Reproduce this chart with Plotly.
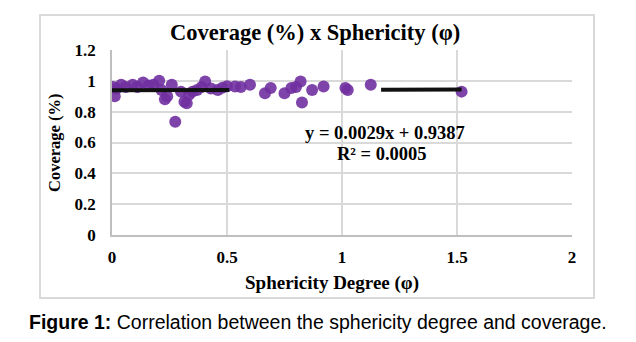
import plotly.graph_objects as go

# ---- data ----
sphericity = [0.005, 0.012, 0.02, 0.04, 0.06, 0.09, 0.11, 0.135, 0.16, 0.18,
              0.205, 0.215, 0.23, 0.24, 0.26, 0.275, 0.30, 0.315, 0.325, 0.335,
              0.35, 0.37, 0.39, 0.405, 0.43, 0.46, 0.48, 0.50, 0.535, 0.56,
              0.60, 0.665, 0.69, 0.75, 0.78, 0.80, 0.82, 0.826, 0.87, 0.92,
              1.015, 1.025, 1.125, 1.52]
coverage = [0.96, 0.90, 0.95, 0.975, 0.96, 0.975, 0.96, 0.99, 0.97, 0.975,
            1.0, 0.94, 0.88, 0.90, 0.975, 0.735, 0.93, 0.865, 0.855, 0.91,
            0.93, 0.94, 0.96, 0.995, 0.95, 0.94, 0.955, 0.965, 0.963, 0.96,
            0.975, 0.92, 0.953, 0.92, 0.953, 0.96, 0.995, 0.86, 0.94, 0.963,
            0.953, 0.94, 0.974, 0.93]
slope = 0.0029
intercept = 0.9387
r2 = 0.0005
trend_segments = [[0.0, 0.51], [1.17, 1.52]]
x_ticks = [0, 0.5, 1, 1.5, 2]
x_tick_labels = ["0", "0.5", "1", "1.5", "2"]
y_ticks = [0, 0.2, 0.4, 0.6, 0.8, 1.0, 1.2]
y_tick_labels = ["0", "0.2", "0.4", "0.6", "0.8", "1", "1.2"]

W, H = 636, 342
L, R, T, B = 112, 64, 50, 107
PW, PH = W - L - R, H - T - B


def px(x):
    return (x - L) / PW


def py(y):
    return (H - B - y) / PH


SERIF = "Liberation Serif, Times New Roman, serif"
TICKFONT = dict(family=SERIF, size=17, color="black", weight="bold")

fig = go.Figure()
fig.add_trace(go.Scatter(
    x=sphericity, y=coverage, mode="markers",
    marker=dict(color="#7030A0", size=12, opacity=0.9, line=dict(width=0)),
    showlegend=False, hoverinfo="skip"))
for seg in trend_segments:
    fig.add_trace(go.Scatter(
        x=seg, y=[slope * v + intercept for v in seg], mode="lines",
        line=dict(color="#111111", width=4), showlegend=False, hoverinfo="skip"))

fig.update_layout(
    width=W, height=H,
    margin=dict(l=L, r=R, t=T, b=B),
    paper_bgcolor="white", plot_bgcolor="white",
    xaxis=dict(range=[0, 2], tickvals=x_ticks, ticktext=x_tick_labels,
               showgrid=True, gridcolor="#d9d9d9", gridwidth=1.5,
               showline=True, linecolor="#bfbfbf", linewidth=1.5, mirror=False,
               zeroline=False, ticks="", ticklen=0, ticklabelstandoff=6,
               tickfont=TICKFONT),
    yaxis=dict(range=[0, 1.2], tickvals=y_ticks, ticktext=y_tick_labels,
               showgrid=True, gridcolor="#d9d9d9", gridwidth=1.5,
               showline=True, linecolor="#bfbfbf", linewidth=1.5,
               zeroline=False, ticks="", ticklen=0, ticklabelstandoff=11,
               tickfont=TICKFONT),
    shapes=[dict(type="rect", xref="paper", yref="paper",
                 x0=px(40), x1=px(594), y0=py(298), y1=py(15),
                 line=dict(color="#d9d9d9", width=2), layer="below")],
    annotations=[
        dict(text="<b>Coverage (%) x Sphericity (φ)</b>", xref="paper", yref="paper",
             x=px(315), y=py(32), showarrow=False, xanchor="center", yanchor="middle",
             font=dict(family=SERIF, size=22.5, color="black")),
        dict(text="<b>Coverage (%)</b>", xref="paper", yref="paper",
             x=px(54), y=py(143), showarrow=False, textangle=-90,
             xanchor="center", yanchor="middle",
             font=dict(family=SERIF, size=16.5, color="black")),
        dict(text="<b>Sphericity Degree (φ)</b>", xref="paper", yref="paper",
             x=px(332), y=py(283), showarrow=False, xanchor="center", yanchor="middle",
             font=dict(family=SERIF, size=19, color="black")),
        dict(text=f"<b>y = {slope:.4f}x + {intercept:.4f}</b>", xref="paper", yref="paper",
             x=px(385), y=py(133), showarrow=False, xanchor="center", yanchor="middle",
             font=dict(family=SERIF, size=18.5, color="black")),
        dict(text=f"<b>R² = {r2:.4f}</b>", xref="paper", yref="paper",
             x=px(382), y=py(154), showarrow=False, xanchor="center", yanchor="middle",
             font=dict(family=SERIF, size=18.5, color="black")),
        dict(text="<b>Figure 1:</b> Correlation between the sphericity degree and coverage.",
             xref="paper", yref="paper",
             x=px(318), y=py(322), showarrow=False, xanchor="center", yanchor="middle",
             font=dict(family="Liberation Sans, Arial, sans-serif", size=19.5, color="black")),
    ],
)

fig.write_html("out.html")
